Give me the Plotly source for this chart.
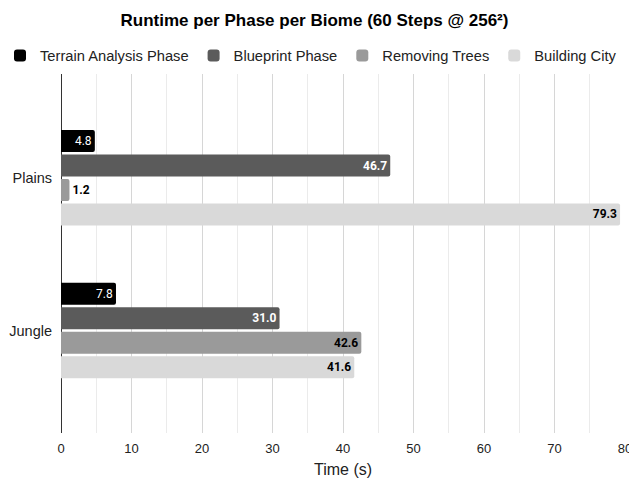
import plotly.graph_objects as go

biomes = ["Plains", "Jungle"]
series_names = ["Terrain Analysis Phase", "Blueprint Phase", "Removing Trees", "Building City"]
terrain = [4.8, 7.8]
blueprint = [46.7, 31.0]
removing = [1.2, 42.6]
building = [79.3, 41.6]
x_ticks = [0, 10, 20, 30, 40, 50, 60, 70, 80]

colors = ["#000000", "#5b5b5b", "#9a9a9a", "#d9d9d9"]
label_colors = ["#ffffff", "#ffffff", "#000000", "#000000"]
label_bold = [False, True, True, True]

fig = go.Figure()
for name, vals, col, lc, bold in zip(series_names, [terrain, blueprint, removing, building],
                                     colors, label_colors, label_bold):
    tmpl = "<b>%{x:.1f}</b>" if bold else "%{x:.1f}"
    fig.add_trace(go.Bar(
        y=biomes, x=vals, name=name, orientation="h",
        marker=dict(color=col, line=dict(width=0)),
        texttemplate=tmpl, textposition="auto",
        insidetextanchor="end",
        textfont=dict(family="Roboto", size=12, color=lc),
        insidetextfont=dict(family="Roboto", size=12, color=lc),
        outsidetextfont=dict(family="Roboto", size=12, color="#000000"),
        cliponaxis=False,
    ))

fig.update_layout(
    width=629, height=483,
    margin=dict(l=61, r=4, t=74, b=50, autoexpand=False),
    paper_bgcolor="white", plot_bgcolor="white",
    barmode="group", bargap=0.36, bargroupgap=0.1, barcornerradius=2,
    font=dict(family="Liberation Sans, Arial", size=13, color="#222222"),
    title=dict(text="<b>Runtime per Phase per Biome (60 Steps @ 256²)</b>",
               x=0.5, xref="container", xanchor="center",
               y=1 - 20 / 483, yref="container", yanchor="middle",
               font=dict(family="Liberation Sans, Arial", size=17, color="#000000")),
    legend=dict(orientation="h", xref="paper", x=-61 / 564, xanchor="left",
                yref="paper", y=1 + (74 - 56) / 359, yanchor="middle",
                font=dict(family="Liberation Sans, Arial", size=14.7, color="#222222"),
                traceorder="normal"),
)
fig.update_xaxes(
    range=[0, 80], tickvals=x_ticks, ticktext=[str(v) for v in x_ticks],
    automargin=False, ticklabeloverflow="allow",
    showgrid=True, gridcolor="#d6d6d6", gridwidth=1,
    minor=dict(dtick=5, showgrid=True, gridcolor="#ebebeb", gridwidth=1),
    zeroline=True, zerolinecolor="#333333", zerolinewidth=1,
    showline=False, ticks="", ticklabelstandoff=6,
    tickfont=dict(family="Liberation Sans, Arial", size=13, color="#222222"),
    title=dict(text="Time (s)", font=dict(family="Liberation Sans, Arial", size=16, color="#222222"),
               standoff=8),
)
fig.update_yaxes(
    range=[1.671, -0.679], automargin=False,
    showgrid=False, zeroline=False, showline=False, ticks="",
    tickfont=dict(family="Liberation Sans, Arial", size=14.5, color="#222222"),
    ticklabelstandoff=8,
)

fig.write_html("out.html", config={"displayModeBar": False},
               post_script="document.body.style.margin='0px';")
